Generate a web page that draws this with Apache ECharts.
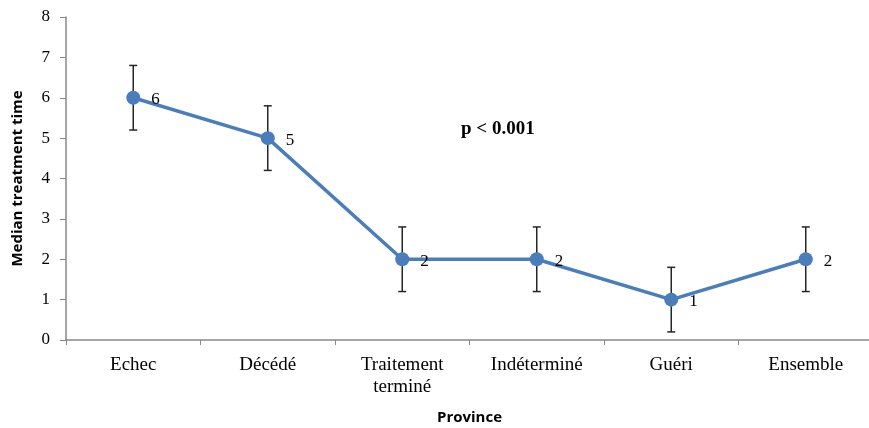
<!DOCTYPE html>
<html><head><meta charset="utf-8">
<script src="https://cdn.jsdelivr.net/npm/echarts@6/dist/echarts.min.js"></script>
<style>html,body{margin:0;padding:0;background:#fff}#c{width:869px;height:428px}</style>
</head><body><div id="c"></div>
<script>
const categories = ['Echec', 'Décédé', 'Traitement\nterminé', 'Indéterminé', 'Guéri', 'Ensemble'];
const medians = [6, 5, 2, 2, 1, 2];
const errMinus = [0.8, 0.8, 0.8, 0.8, 0.8, 0.8];
const errPlus = [0.8, 0.8, 0.8, 0.8, 0.8, 0.8];
const yTicks = [0, 1, 2, 3, 4, 5, 6, 7, 8];

const errData = categories.map((c, i) => [i, medians[i] - errMinus[i], medians[i] + errPlus[i]]);
const chart = echarts.init(document.getElementById('c'), null, {renderer: 'canvas'});
const serif = '"Liberation Serif", "Times New Roman", serif';
chart.setOption({
  animation: false,
  grid: {left: 66, right: -4, top: 17, bottom: 88, containLabel: false, outerBoundsMode: 'none'},
  xAxis: {
    type: 'category', data: categories, boundaryGap: true,
    name: 'Province', nameLocation: 'middle', nameGap: 70,
    nameTextStyle: {fontFamily: '"Open Sans", "Liberation Sans", sans-serif', fontWeight: 'bold', fontSize: 15, color: '#000'},
    axisLine: {lineStyle: {color: '#888', width: 1.5}},
    axisTick: {show: true, length: 5, alignWithLabel: false, lineStyle: {color: '#888'}},
    axisLabel: {fontFamily: serif, fontSize: 19, color: '#000', margin: 14, lineHeight: 22, interval: 0},
    splitLine: {show: false}
  },
  yAxis: {
    type: 'value', min: yTicks[0], max: yTicks[yTicks.length - 1], interval: 1,
    name: 'Median treatment time', nameLocation: 'middle', nameGap: 41, nameRotate: 90,
    nameTextStyle: {fontFamily: '"Open Sans", "Liberation Sans", sans-serif', fontWeight: 'bold', fontSize: 15, color: '#000'},
    axisLine: {show: true, lineStyle: {color: '#888', width: 1.5}},
    axisTick: {show: true, length: 6, lineStyle: {color: '#888'}},
    axisLabel: {fontFamily: serif, fontSize: 17, color: '#000', margin: 16},
    splitLine: {show: false}
  },
  series: [
    {
      type: 'custom', z: 1,
      data: errData,
      renderItem: function (params, api) {
        const x = api.value(0);
        const lo = api.coord([x, api.value(1)]);
        const hi = api.coord([x, api.value(2)]);
        const hw = 4;
        const st = {stroke: '#262626', lineWidth: 1.5};
        return {type: 'group', children: [
          {type: 'line', shape: {x1: lo[0], y1: lo[1], x2: hi[0], y2: hi[1]}, style: st},
          {type: 'line', shape: {x1: lo[0] - hw, y1: lo[1], x2: lo[0] + hw, y2: lo[1]}, style: st},
          {type: 'line', shape: {x1: hi[0] - hw, y1: hi[1], x2: hi[0] + hw, y2: hi[1]}, style: st}
        ]};
      }
    },
    {
      type: 'line', z: 3, data: medians,
      symbol: 'circle', symbolSize: 14,
      lineStyle: {color: '#4a7ebb', width: 3.5},
      itemStyle: {color: '#4a7ebb'},
      label: {show: true, position: 'right', distance: 11, fontFamily: serif, fontSize: 17, color: '#000', offset: [0, 2]}
    }
  ],
  graphic: [{
    type: 'text', x: 461, y: 129,
    style: {text: 'p < 0.001', font: 'bold 19px ' + serif, fill: '#000', verticalAlign: 'middle'}
  }]
});
</script></body></html>
